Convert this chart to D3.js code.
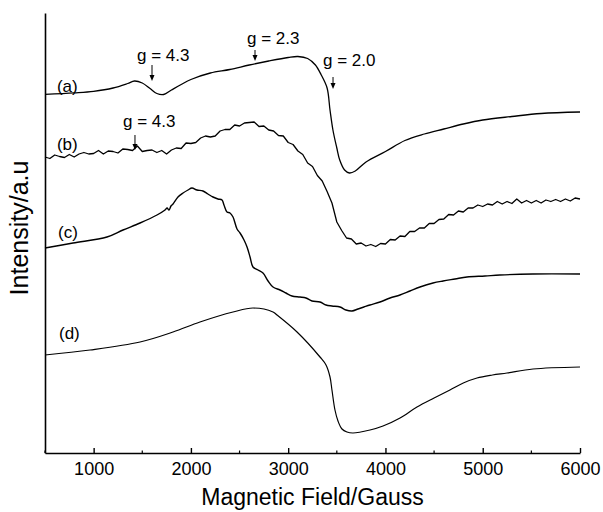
<!DOCTYPE html>
<html>
<head>
<meta charset="utf-8">
<script src="https://cdn.jsdelivr.net/npm/d3@7"></script>
<style>
  body { margin: 0; background: #fff; }
  svg { display: block; font-family: "Liberation Sans", Arial, sans-serif; }
</style>
</head>
<body>
<div id="chart"></div>
<script>
// EPR spectra, [field (G), intensity (a.u.)]
const seriesA = [
  [500,358.7],[800,360.2],[1000,361.7],[1200,365],[1350,369.5],[1420,372],[1500,370],
  [1580,364.5],[1650,359.5],[1720,358.5],[1800,363],[1900,368.5],[2000,373.5],[2200,380],
  [2400,383.5],[2600,388],[2800,392],[3000,395.5],[3100,396.5],[3200,394.5],[3280,388],
  [3340,378],[3400,365],[3430,343],[3460,323],[3500,305],[3530,293],[3580,283],[3630,280],
  [3690,282],[3800,291],[4000,301.5],[4200,312.5],[4400,319],[4600,324],[4800,329],
  [5000,333],[5300,336.5],[5600,339.5],[6000,341]
];

const seriesB = [
  [500,296],[550,294.5],[600,298],[650,296.5],[700,295.5],[750,298.5],[800,296],[850,299],
  [900,300.5],[950,299],[1000,299.5],[1050,302.5],[1100,299],[1150,302],[1200,301.5],
  [1250,300],[1300,304],[1350,303.5],[1400,302.5],[1450,307],[1500,301.5],[1550,302.5],
  [1600,303],[1650,300.5],[1700,302.5],[1750,299],[1800,303],[1850,305],[1900,304.5],
  [1950,310],[2000,309.5],[2050,310.5],[2100,315],[2150,317],[2200,316],[2250,317],
  [2300,322],[2350,323.5],[2400,323.5],[2450,328],[2500,327],[2550,330],[2600,330.5],
  [2650,331],[2700,326.5],[2750,327],[2800,323],[2850,322],[2900,317.5],[2950,317],
  [3000,310.5],[3050,308.5],[3100,302],[3150,298.5],[3200,290],[3250,286.5],[3300,277.5],
  [3350,272],[3400,261.5],[3450,250],[3500,231],[3550,222.5],[3600,215],[3650,214],
  [3700,209],[3750,210],[3800,207],[3850,208.5],[3900,206.5],[3950,209.5],[4000,209],
  [4050,213.5],[4100,213],[4150,217],[4200,216.5],[4250,221.5],[4300,221.5],[4350,225],
  [4400,225],[4450,229.5],[4500,229.5],[4550,233.5],[4600,234],[4650,238.5],[4700,238],
  [4750,242],[4800,241],[4850,245],[4900,245],[4950,248],[5000,246.5],[5050,249],[5100,248],
  [5150,251.5],[5200,249],[5250,251.5],[5300,249.5],[5350,254],[5400,250],[5450,252.5],
  [5500,250],[5550,252.5],[5600,250],[5650,253],[5700,251.5],[5750,253.5],[5800,251.5],
  [5850,254],[5900,252],[5950,255],[6000,254]
];

const seriesC = [
  [500,205],[788,210],[1137,216],[1302,223],[1477,230],[1651,238],[1734,243],[1755,245],
  [1775,243],[1795,247],[1816,249],[1867,256],[1919,260],[1970,263],[2011,265],[2062,263],
  [2124,262],[2175,259],[2227,256],[2278,254],[2320,253],[2340,248],[2371,241],[2402,240],
  [2433,236],[2474,224],[2505,220],[2546,213],[2577,206],[2608,196],[2638,186],[2690,183],
  [2741,180],[2793,172],[2844,166],[2916,163],[2977,160],[3039,157],[3121,156],[3183,155],
  [3245,152],[3327,151],[3389,148],[3450,147],[3533,146],[3594,143],[3656,142],[3718,144],
  [3779,146],[3841,148],[3944,151],[4047,155],[4149,158],[4252,162],[4355,166],[4489,170],
  [4592,172],[4715,174],[4838,176],[5023,177],[5177,178],[5516,179],[6000,179]
];

const seriesD = [
  [500,98],[963,103],[1477,111],[1816,121],[2093,131],[2433,141],[2638,145],[2844,141],
  [2885,138],[3091,121],[3327,96],[3389,88],[3430,76],[3450,63],[3481,43],[3512,32],
  [3553,24],[3604,21],[3666,20],[3841,23],[3975,27],[4150,35],[4324,46],[4500,55],
  [4663,63],[4800,70],[4941,75],[5100,78],[5249,80],[5517,84],[6000,86]
];

const curveLabels = [
  {text: "(a)", field: 623, value: 361},
  {text: "(b)", field: 623, value: 303},
  {text: "(c)", field: 634, value: 215},
  {text: "(d)", field: 644, value: 114}
];

// g-value markers: text position, arrow field, arrow top/bottom intensity
const gMarks = [
  {text: "g = 4.3", tField: 1446, tValue: 392, field: 1600, from: 388, to: 372},
  {text: "g = 2.3", tField: 2577, tValue: 409, field: 2659, from: 403, to: 392},
  {text: "g = 2.0", tField: 3358, tValue: 387, field: 3461, from: 376, to: 364},
  {text: "g = 4.3", tField: 1302, tValue: 326, field: 1425, from: 318, to: 303}
];

const majorTicks = [1000, 2000, 3000, 4000, 5000, 6000];
const minorTicks = [500, 1500, 2500, 3500, 4500, 5500];

const width = 603, height = 512;
const margin = {top: 13, right: 23, bottom: 59, left: 45};

const svg = d3.select("#chart")
  .append("svg")
  .attr("width", width)
  .attr("height", height);

const x = d3.scaleLinear()
  .domain([500, 6000])
  .range([margin.left, width - margin.right]);
const y = d3.scaleLinear()
  .domain([0, 440])
  .range([height - margin.bottom, margin.top]);

/* curves */
const smooth = d3.line()
  .curve(d3.curveCatmullRom)
  .x(d => x(d[0]))
  .y(d => y(d[1]));
const raw = d3.line()
  .x(d => x(d[0]))
  .y(d => y(d[1]));

svg.append("g")
  .selectAll("path")
  .data([[seriesA, smooth, 1.3], [seriesB, raw, 1.3], [seriesC, smooth, 1.4], [seriesD, smooth, 1.2]])
  .join("path")
  .attr("d", d => d[1](d[0]))
  .attr("fill", "none")
  .attr("stroke", "#000")
  .attr("stroke-width", d => d[2])
  .attr("stroke-linejoin", "round");

/* axes */
const xAxis = d3.axisBottom(x)
  .tickValues(majorTicks)
  .tickSizeInner(-5)
  .tickSizeOuter(0)
  .tickPadding(9)
  .tickFormat(d3.format("d"));

const xGroup = svg.append("g")
  .attr("transform", `translate(0,${height - margin.bottom})`)
  .call(xAxis);
xGroup.select(".domain").attr("stroke-width", 1.6);
xGroup.selectAll(".tick line").attr("stroke-width", 1.4);
xGroup.selectAll("text")
  .attr("font-size", 18)
  .attr("font-family", "Liberation Sans, Arial, sans-serif")
  .attr("fill", "#000");

svg.append("g")
  .attr("transform", `translate(0,${height - margin.bottom})`)
  .selectAll("line")
  .data(minorTicks)
  .join("line")
  .attr("x1", d => x(d))
  .attr("x2", d => x(d))
  .attr("y1", 0)
  .attr("y2", -2.5)
  .attr("stroke", "#000")
  .attr("stroke-width", 1.2);

const yGroup = svg.append("g")
  .attr("transform", `translate(${margin.left},0)`)
  .call(d3.axisLeft(y).tickValues([]).tickSizeOuter(0));
yGroup.select(".domain").attr("stroke-width", 1.6);

/* axis titles */
svg.append("text")
  .attr("x", (margin.left + width - margin.right) / 2)
  .attr("y", 505)
  .attr("text-anchor", "middle")
  .attr("font-size", 23)
  .text("Magnetic Field/Gauss");

svg.append("text")
  .attr("transform", `translate(28,${(margin.top + height - margin.bottom) / 2 - 5}) rotate(-90)`)
  .attr("text-anchor", "middle")
  .attr("font-size", 25)
  .text("Intensity/a.u");

/* curve labels */
svg.append("g")
  .selectAll("text")
  .data(curveLabels)
  .join("text")
  .attr("x", d => x(d.field))
  .attr("y", d => y(d.value))
  .attr("font-size", 17)
  .text(d => d.text);

/* g markers */
const marks = svg.append("g");
marks.selectAll("text")
  .data(gMarks)
  .join("text")
  .attr("x", d => x(d.tField))
  .attr("y", d => y(d.tValue))
  .attr("font-size", 17)
  .text(d => d.text);
marks.selectAll("line")
  .data(gMarks)
  .join("line")
  .attr("x1", d => x(d.field))
  .attr("x2", d => x(d.field))
  .attr("y1", d => y(d.from))
  .attr("y2", d => y(d.to) - 4)
  .attr("stroke", "#000")
  .attr("stroke-width", 1);
marks.selectAll("path")
  .data(gMarks)
  .join("path")
  .attr("d", d => {
    const ax = x(d.field), ay = y(d.to);
    return `M${ax - 2.5},${ay - 6}L${ax + 2.5},${ay - 6}L${ax},${ay}Z`;
  })
  .attr("fill", "#000");
</script>
</body>
</html>
